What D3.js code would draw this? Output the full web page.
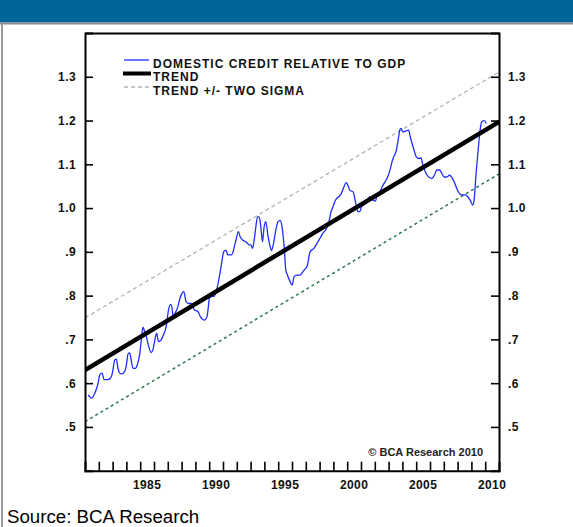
<!DOCTYPE html>
<html>
<head>
<meta charset="utf-8">
<script src="https://cdn.jsdelivr.net/npm/d3@7"></script>
<style>
  html, body { margin: 0; padding: 0; background: #fff; }
  svg { display: block; }
  text { font-family: "Liberation Sans", Arial, sans-serif; }
</style>
</head>
<body>
<script>
// Domestic credit relative to GDP, with log-linear trend and +/- two sigma bands
const years = [1981.23,1981.47,1981.71,1981.95,1982.07,1982.24,1982.38,1982.67,1982.91,1983.03,1983.15,1983.27,1983.39,1983.52,1983.64,1983.88,1984.00,1984.12,1984.24,1984.36,1984.48,1984.65,1984.79,1984.96,1985.08,1985.20,1985.32,1985.44,1985.56,1985.80,1985.92,1986.04,1986.19,1986.33,1986.52,1986.64,1986.88,1987.05,1987.20,1987.29,1987.39,1987.53,1987.73,1987.85,1988.02,1988.16,1988.33,1988.50,1988.69,1988.93,1989.17,1989.36,1989.65,1989.84,1989.94,1990.01,1990.18,1990.37,1990.62,1990.86,1991.05,1991.22,1991.34,1991.58,1991.70,1991.82,1991.94,1992.11,1992.25,1992.42,1992.66,1992.90,1993.02,1993.14,1993.26,1993.38,1993.50,1993.62,1993.74,1993.86,1993.98,1994.10,1994.27,1994.42,1994.51,1994.66,1994.83,1994.99,1995.14,1995.28,1995.43,1995.55,1995.67,1995.86,1996.01,1996.15,1996.34,1996.58,1996.82,1997.11,1997.23,1997.31,1997.59,1997.88,1998.08,1998.27,1998.44,1998.68,1998.80,1998.97,1999.09,1999.23,1999.40,1999.57,1999.76,1999.93,2000.05,2000.19,2000.43,2000.60,2000.77,2000.92,2001.04,2001.20,2001.45,2001.64,2001.88,2002.05,2002.17,2002.29,2002.53,2002.70,2002.89,2003.13,2003.25,2003.37,2003.56,2003.73,2003.80,2003.90,2004.04,2004.21,2004.45,2004.57,2004.81,2005.01,2005.18,2005.34,2005.49,2005.66,2005.90,2006.14,2006.31,2006.50,2006.69,2006.86,2007.03,2007.22,2007.41,2007.58,2007.75,2007.94,2008.14,2008.30,2008.55,2008.74,2008.91,2009.10,2009.20,2009.34,2009.51,2009.63,2009.75,2009.87,2009.99,2010.06];

const creditToGdp = [0.573,0.566,0.577,0.600,0.619,0.623,0.608,0.608,0.615,0.631,0.653,0.655,0.634,0.623,0.621,0.627,0.642,0.667,0.669,0.650,0.634,0.634,0.642,0.665,0.699,0.728,0.718,0.707,0.691,0.670,0.676,0.695,0.714,0.695,0.699,0.707,0.729,0.767,0.780,0.775,0.752,0.760,0.775,0.790,0.805,0.809,0.786,0.782,0.782,0.767,0.764,0.752,0.744,0.752,0.775,0.794,0.798,0.799,0.824,0.866,0.900,0.904,0.893,0.893,0.897,0.912,0.927,0.946,0.934,0.927,0.923,0.916,0.916,0.908,0.927,0.957,0.980,0.980,0.957,0.923,0.957,0.969,0.934,0.912,0.903,0.919,0.950,0.969,0.972,0.957,0.912,0.859,0.847,0.832,0.824,0.843,0.847,0.847,0.856,0.868,0.889,0.900,0.908,0.923,0.934,0.944,0.950,0.969,0.988,1.003,1.014,1.022,1.026,1.033,1.048,1.058,1.052,1.041,1.037,1.014,0.992,0.992,1.003,1.007,1.014,1.026,1.018,1.016,1.030,1.033,1.048,1.058,1.068,1.090,1.106,1.117,1.132,1.163,1.178,1.182,1.174,1.176,1.178,1.163,1.136,1.117,1.113,1.115,1.098,1.083,1.071,1.068,1.075,1.087,1.087,1.079,1.071,1.071,1.075,1.070,1.060,1.045,1.033,1.030,1.030,1.026,1.018,1.007,1.020,1.079,1.140,1.178,1.197,1.200,1.199,1.193];

// Trend line and bands, given at the two ends of the period
const bandYears = [1981, 2011];
const trend = [0.630, 1.197];
const upperBand = [0.749, 1.311];
const lowerBand = [0.512, 1.078];

const yTicks = [0.5, 0.6, 0.7, 0.8, 0.9, 1.0, 1.1, 1.2, 1.3];
const yTickLabels = [".5", ".6", ".7", ".8", ".9", "1.0", "1.1", "1.2", "1.3"];
const yearLabels = [1985, 1990, 1995, 2000, 2005, 2010];

const legendItems = [
  { label: "DOMESTIC CREDIT RELATIVE TO GDP", key: "credit" },
  { label: "TREND", key: "trend" },
  { label: "TREND +/- TWO SIGMA", key: "band" }
];

const W = 573, H = 527;
const plot = { left: 85, right: 499, top: 33, bottom: 470.7 };

const svg = d3.select("body").append("svg").attr("width", W).attr("height", H);
svg.append("rect").attr("width", W).attr("height", H).attr("fill", "#fff");

// header strip
svg.append("rect").attr("x", 0).attr("y", 0).attr("width", W).attr("height", 22.5).attr("fill", "#006699");
svg.append("rect").attr("x", 0).attr("y", 22.5).attr("width", W).attr("height", 2).attr("fill", "#8a8a8a");
// left border of the panel
svg.append("rect").attr("x", 1).attr("y", 24).attr("width", 2).attr("height", H - 24).attr("fill", "#9a9a9a");

const x = d3.scaleLinear().domain([1981, 2011]).range([plot.left, plot.right]);
const y = d3.scaleLinear().domain([0.4, 1.4]).range([plot.bottom, plot.top]);

const g = svg.append("g");

// clip to the plotting frame
svg.append("clipPath").attr("id", "plotclip").append("rect")
  .attr("x", plot.left).attr("y", plot.top)
  .attr("width", plot.right - plot.left).attr("height", plot.bottom - plot.top);

const lines = g.append("g").attr("clip-path", "url(#plotclip)");
const bandLine = d3.line().x(d => x(d[0])).y(d => y(d[1]));

lines.append("path").datum(d3.zip(bandYears, upperBand)).attr("d", bandLine)
  .attr("fill", "none").attr("stroke", "#b4b4b4").attr("stroke-width", 1.3).attr("stroke-dasharray", "4,3");
lines.append("path").datum(d3.zip(bandYears, lowerBand)).attr("d", bandLine)
  .attr("fill", "none").attr("stroke", "#2f7a50").attr("stroke-width", 1.5).attr("stroke-dasharray", "3,3");

lines.append("path").datum(d3.zip(years, creditToGdp)).attr("d", d3.line().x(d => x(d[0])).y(d => y(d[1])).curve(d3.curveMonotoneX))
  .attr("fill", "none").attr("stroke", "#1f2dff").attr("stroke-width", 1.3).attr("stroke-linejoin", "round");

lines.append("path").datum(d3.zip(bandYears, trend)).attr("d", bandLine)
  .attr("fill", "none").attr("stroke", "#000").attr("stroke-width", 4.5);

// axes: inward ticks on left, right and bottom
const tickFont = "bold 12px 'Liberation Sans', Arial, sans-serif";
const fmtY = d => yTickLabels[yTicks.indexOf(d)];

const leftAxis = g.append("g").attr("transform", `translate(${plot.left},0)`)
  .call(d3.axisLeft(y).tickValues(yTicks).tickSize(-8).tickPadding(9).tickFormat(fmtY));
const rightAxis = g.append("g").attr("transform", `translate(${plot.right},0)`)
  .call(d3.axisRight(y).tickValues(yTicks).tickSize(-8).tickPadding(9).tickFormat(fmtY));
const bottomAxis = g.append("g").attr("transform", `translate(0,${plot.bottom})`)
  .call(d3.axisBottom(x).tickValues(d3.range(1982, 2011)).tickSize(-9).tickFormat(""));
const topAxis = g.append("g").attr("transform", `translate(0,${plot.top})`)
  .call(d3.axisTop(x).tickValues([]).tickSize(0));

[leftAxis, rightAxis, bottomAxis, topAxis].forEach(a => {
  a.select(".domain").attr("stroke", "#000").attr("stroke-width", 2);
  a.selectAll(".tick line").attr("stroke", "#000").attr("stroke-width", 1.6);
  a.selectAll("text").style("font", tickFont).attr("letter-spacing", 0.4).attr("fill", "#111");
});

// year labels sit in the middle of each year
g.append("g").selectAll("text").data(yearLabels).join("text")
  .attr("x", d => x(d + 0.5)).attr("y", 488.5)
  .attr("text-anchor", "middle")
  .style("font", tickFont).attr("letter-spacing", 0.4).attr("fill", "#111")
  .text(d => d);

// legend
const lg = g.append("g");
const legendY = [60, 73.5, 87];
const textY = [68, 80.5, 95];
legendItems.forEach((item, i) => {
  if (item.key === "credit") {
    lg.append("line").attr("x1", 124).attr("x2", 149).attr("y1", legendY[i]).attr("y2", legendY[i])
      .attr("stroke", "#1f2dff").attr("stroke-width", 1.3);
  } else if (item.key === "trend") {
    lg.append("line").attr("x1", 123).attr("x2", 151).attr("y1", legendY[i]).attr("y2", legendY[i])
      .attr("stroke", "#000").attr("stroke-width", 4);
  } else {
    lg.append("line").attr("x1", 124).attr("x2", 149).attr("y1", legendY[i]).attr("y2", legendY[i])
      .attr("stroke", "#b4b4b4").attr("stroke-width", 1.3).attr("stroke-dasharray", "4,3");
  }
  lg.append("text").attr("x", 153).attr("y", textY[i])
    .style("font", "bold 12px 'Liberation Sans', Arial, sans-serif")
    .attr("letter-spacing", 1.0).attr("fill", "#111")
    .text(item.label);
});

// copyright note
g.append("text").attr("x", 483).attr("y", 456).attr("text-anchor", "end")
  .style("font", "bold 11px 'Liberation Sans', Arial, sans-serif").attr("fill", "#222")
  .text("\u00A9 BCA Research 2010");

// source line
svg.append("text").attr("x", 7).attr("y", 523)
  .style("font", "18.7px 'Liberation Sans', Arial, sans-serif").attr("fill", "#000")
  .text("Source: BCA Research");
</script>
</body>
</html>
